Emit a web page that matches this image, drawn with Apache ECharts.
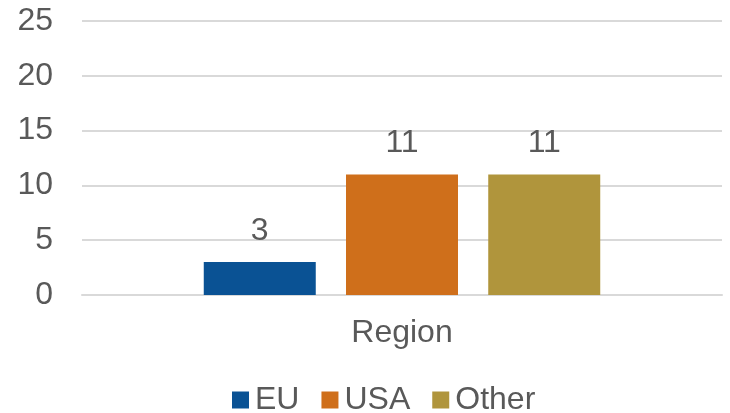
<!DOCTYPE html>
<html>
<head>
<meta charset="utf-8">
<script src="https://cdn.jsdelivr.net/npm/echarts@6/dist/echarts.min.js"></script>
<style>
  html, body { margin: 0; padding: 0; background: #ffffff; }
  #chart { width: 730px; height: 413px; }
</style>
</head>
<body>
<div id="chart"></div>
<script>
// Counts per region
const categories = ['Region'];
const seriesNames = ['EU', 'USA', 'Other'];
const euValues = [3];
const usaValues = [11];
const otherValues = [11];
const yTicks = { min: 0, max: 25, interval: 5 };

const colors = ['#0a5294', '#cf6f1b', '#b0953c'];
const textColor = '#595959';
const fontFamily = '"Liberation Sans", Arial, sans-serif';
const gridColor = '#d9d9d9';
const fontSize = 32;

const valueSets = [euValues, usaValues, otherValues];

const chart = echarts.init(document.getElementById('chart'), null, { renderer: 'canvas' });

chart.setOption({
  animation: false,
  textStyle: { fontFamily: fontFamily },
  grid: { left: 82, right: 8, top: 21, bottom: 118, containLabel: false },
  legend: {
    data: seriesNames,
    top: 384,
    left: 232,
    padding: 0,
    itemWidth: 17,
    itemHeight: 17,
    itemGap: 22,
    icon: 'rect',
    textStyle: { color: textColor, fontSize: fontSize, fontFamily: fontFamily, padding: [0, 0, 0, 1] }
  },
  xAxis: {
    type: 'category',
    data: categories,
    axisLine: { lineStyle: { color: gridColor, width: 2 } },
    axisTick: { show: false },
    axisLabel: { color: textColor, fontSize: fontSize, margin: 22, fontFamily: fontFamily }
  },
  yAxis: {
    type: 'value',
    min: yTicks.min,
    max: yTicks.max,
    interval: yTicks.interval,
    axisLine: { show: false },
    axisTick: { show: false },
    splitLine: { lineStyle: { color: gridColor, width: 2 } },
    axisLabel: { color: textColor, fontSize: fontSize, margin: 29, fontFamily: fontFamily }
  },
  series: seriesNames.map((name, i) => ({
    name: name,
    type: 'bar',
    data: valueSets[i],
    barWidth: 112,
    barGap: '27%',
    itemStyle: { color: colors[i] },
    label: {
      show: true,
      position: 'top',
      distance: 15,
      color: textColor,
      fontSize: fontSize,
      fontFamily: fontFamily
    }
  }))
});
</script>
</body>
</html>
